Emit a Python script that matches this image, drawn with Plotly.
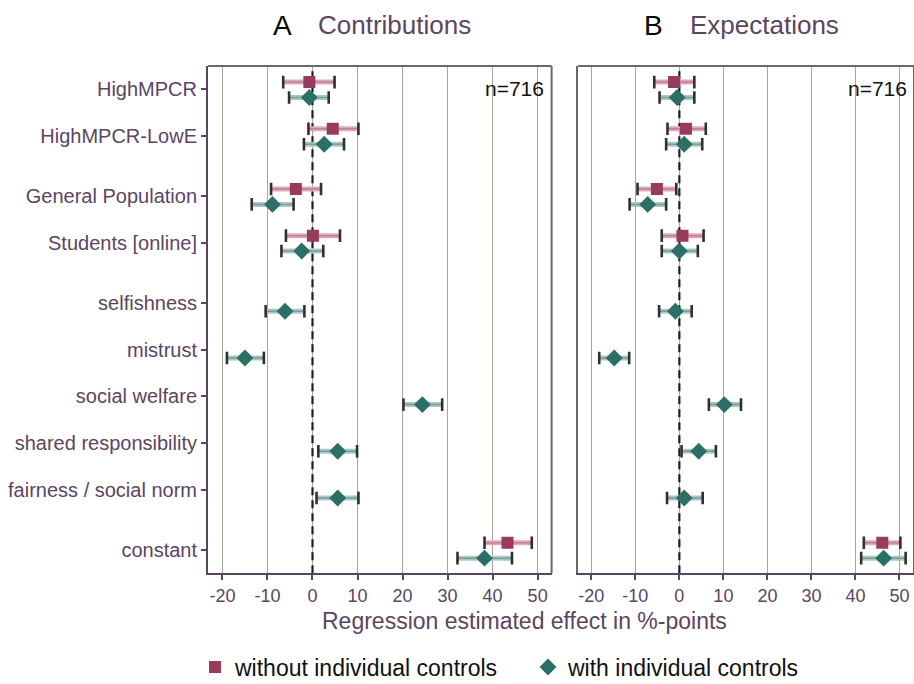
import plotly.graph_objects as go

# ---------------- data ----------------
categories = ["HighMPCR", "HighMPCR-LowE", "General Population", "Students [online]",
              "selfishness", "mistrust", "social welfare", "shared responsibility",
              "fairness / social norm", "constant"]
groups = [0, 0, 1, 1, 2, 2, 2, 2, 2, 3]   # block membership (drawn with extra gaps)

# Panel A: Contributions
a_wo = [-0.7, 4.5, -3.7, 0.1, None, None, None, None, None, 43.3]
a_wo_lo = [-6.5, -0.9, -9.2, -5.9, None, None, None, None, None, 38.2]
a_wo_hi = [4.9, 10.2, 1.9, 6.1, None, None, None, None, None, 48.7]
a_w = [-0.7, 2.6, -8.9, -2.4, -6.1, -15.0, 24.4, 5.6, 5.6, 38.2]
a_w_lo = [-5.2, -1.9, -13.5, -6.9, -10.4, -19.0, 20.2, 1.3, 0.9, 32.2]
a_w_hi = [3.6, 7.0, -4.2, 2.4, -1.8, -10.8, 28.8, 9.9, 10.2, 44.3]

# Panel B: Expectations
b_wo = [-1.2, 1.5, -5.1, 0.7, None, None, None, None, None, 46.1]
b_wo_lo = [-5.7, -2.7, -9.5, -4.0, None, None, None, None, None, 41.9]
b_wo_hi = [3.4, 6.0, -0.7, 5.5, None, None, None, None, None, 50.2]
b_w = [-0.5, 1.1, -7.2, 0.0, -0.9, -14.8, 10.2, 4.4, 1.1, 46.4]
b_w_lo = [-4.5, -3.0, -11.3, -4.0, -4.6, -18.2, 6.7, 0.5, -2.8, 41.3]
b_w_hi = [3.4, 5.2, -3.0, 4.2, 2.8, -11.4, 14.0, 8.3, 5.3, 51.4]

x_ticks = [-20, -10, 0, 10, 20, 30, 40, 50]
n_label = "n=716"
series_names = ["without individual controls", "with individual controls"]

# ---------------- style ----------------
PURPLE = "#5b4562"
GRAY = "#6a6a6a"
SQ = "#983b5d"
DI = "#2b6f66"
SQ_BAR_OUT, SQ_BAR_IN = "#dfa9bb", "#c27f98"
DI_BAR_OUT, DI_BAR_IN = "#adc8c4", "#7a9e99"
CAP = "#303030"
FONT = "Liberation Sans"

GAP = 0.29
pos = []
for i, g in enumerate(groups):
    pos.append(i + g * GAP)
OFF_SQ, OFF_DI = -0.155, 0.175
yr = [pos[-1] + 0.5, pos[0] - 0.5]

fig = go.Figure()

# zero reference lines (drawn first so the marks sit on top)
for xa, ya in (("x", "y"), ("x2", "y2")):
    fig.add_trace(go.Scatter(x=[0, 0], y=yr, mode="lines",
                             line=dict(color="#1e1e1e", width=2.2, dash="8px,5px"),
                             xaxis=xa, yaxis=ya, showlegend=False, hoverinfo="skip"))


def add_series(vals, lo, hi, off, sym, color, bout, bin_, size, name, xa, ya, legend, lg):
    xs_bar, ys_bar, cx, cy, mx, my = [], [], [], [], [], []
    for p, v, l, h in zip(pos, vals, lo, hi):
        if v is None:
            continue
        y = p + off
        xs_bar += [l, h, None]
        ys_bar += [y, y, None]
        cx += [l, h]
        cy += [y, y]
        mx.append(v)
        my.append(y)
    fig.add_trace(go.Scatter(x=xs_bar, y=ys_bar, mode="lines", line=dict(color=bout, width=5),
                             xaxis=xa, yaxis=ya, showlegend=False, hoverinfo="skip"))
    fig.add_trace(go.Scatter(x=xs_bar, y=ys_bar, mode="lines", line=dict(color=bin_, width=1.5),
                             xaxis=xa, yaxis=ya, showlegend=False, hoverinfo="skip"))
    fig.add_trace(go.Scatter(x=cx, y=cy, mode="markers",
                             marker=dict(symbol="line-ns-open", size=9, color=CAP,
                                         line=dict(color=CAP, width=2.6)),
                             xaxis=xa, yaxis=ya, showlegend=False, hoverinfo="skip"))
    fig.add_trace(go.Scatter(x=mx, y=my, mode="markers", name=name,
                             marker=dict(symbol=sym, size=size, color=color, line=dict(width=0)),
                             xaxis=xa, yaxis=ya, showlegend=legend, legend=lg))


add_series(a_wo, a_wo_lo, a_wo_hi, OFF_SQ, "square", SQ, SQ_BAR_OUT, SQ_BAR_IN, 12, series_names[0], "x", "y", True, "legend")
add_series(a_w, a_w_lo, a_w_hi, OFF_DI, "diamond", DI, DI_BAR_OUT, DI_BAR_IN, 13, series_names[1], "x", "y", True, "legend2")
add_series(b_wo, b_wo_lo, b_wo_hi, OFF_SQ, "square", SQ, SQ_BAR_OUT, SQ_BAR_IN, 12, series_names[0], "x2", "y2", False, "legend")
add_series(b_w, b_w_lo, b_w_hi, OFF_DI, "diamond", DI, DI_BAR_OUT, DI_BAR_IN, 13, series_names[1], "x2", "y2", False, "legend2")

xcommon = dict(tickvals=x_ticks, ticktext=[str(t) for t in x_ticks], showgrid=True,
               gridcolor="#aaa894", gridwidth=1, zeroline=False, showline=True,
               linecolor=PURPLE, linewidth=2, ticks="outside", ticklen=5, tickwidth=1.5,
               tickcolor=PURPLE, tickfont=dict(family=FONT, size=18, color=PURPLE))

legend_common = dict(orientation="h", xanchor="left", y=1 - 667 / 684, yanchor="middle",
                     font=dict(family=FONT, size=23, color="#111"), itemwidth=30,
                     bgcolor="rgba(0,0,0,0)")

fig.update_layout(
    width=914, height=684,
    margin=dict(l=0, r=0, t=0, b=0, autoexpand=False),
    plot_bgcolor="white", paper_bgcolor="white",
    font=dict(family=FONT),
    xaxis=dict(domain=[0.2276, 0.6035], range=[-23.2, 53.1], anchor="y", **xcommon),
    xaxis2=dict(domain=[0.6325, 1.0], range=[-23.0, 53.3], anchor="y2", **xcommon),
    yaxis=dict(domain=[0.1618, 0.9035], range=yr, tickvals=pos, ticktext=categories,
               showgrid=False, zeroline=False, showline=True, linecolor=PURPLE, linewidth=2,
               ticks="outside", ticklen=5, tickwidth=1.5, tickcolor=PURPLE,
               tickfont=dict(family=FONT, size=20, color=PURPLE), anchor="x"),
    yaxis2=dict(domain=[0.1618, 0.9035], range=yr, showticklabels=False, showgrid=False,
                zeroline=False, showline=True, linecolor=GRAY, linewidth=2, anchor="x2"),
    legend=dict(x=195 / 914, **legend_common),
    legend2=dict(x=528 / 914, **legend_common),
    showlegend=True,
)

# frame (top/right)
for xa, ya in (("x", "y"), ("x2", "y2")):
    fig.add_shape(type="line", xref=f"{xa} domain", yref=f"{ya} domain", x0=0, x1=1, y0=1, y1=1,
                  line=dict(color=GRAY, width=2))
    fig.add_shape(type="line", xref=f"{xa} domain", yref=f"{ya} domain", x0=1, x1=1, y0=0, y1=1,
                  line=dict(color=GRAY, width=2))

# n labels
for xa, ya in (("x", "y"), ("x2", "y2")):
    fig.add_annotation(text=n_label, xref=f"{xa} domain", yref=f"{ya} domain", x=0.985, y=0.955,
                       xanchor="right", yanchor="middle", showarrow=False,
                       font=dict(family=FONT, size=21, color="#111"))

# titles
TY = 1 - 25 / 684
fig.add_annotation(text="A", xref="paper", yref="paper", x=294 / 914, y=TY, xanchor="right",
                   yanchor="middle", showarrow=False, font=dict(family=FONT, size=28, color="#000"))
fig.add_annotation(text="Contributions", xref="paper", yref="paper", x=316 / 914, y=TY,
                   xanchor="left", yanchor="middle", showarrow=False,
                   font=dict(family=FONT, size=26, color=PURPLE))
fig.add_annotation(text="B", xref="paper", yref="paper", x=665 / 914, y=TY, xanchor="right",
                   yanchor="middle", showarrow=False, font=dict(family=FONT, size=28, color="#000"))
fig.add_annotation(text="Expectations", xref="paper", yref="paper", x=688 / 914, y=TY,
                   xanchor="left", yanchor="middle", showarrow=False,
                   font=dict(family=FONT, size=26, color=PURPLE))

# x axis title
fig.add_annotation(text="Regression estimated effect in %-points", xref="paper", yref="paper",
                   x=524 / 914, y=1 - 621 / 684, xanchor="center", yanchor="middle", showarrow=False,
                   font=dict(family=FONT, size=23, color=PURPLE))

fig.write_html("out.html", config={"displayModeBar": False},
               post_script="document.body.style.margin='0';document.body.style.overflow='hidden';")
